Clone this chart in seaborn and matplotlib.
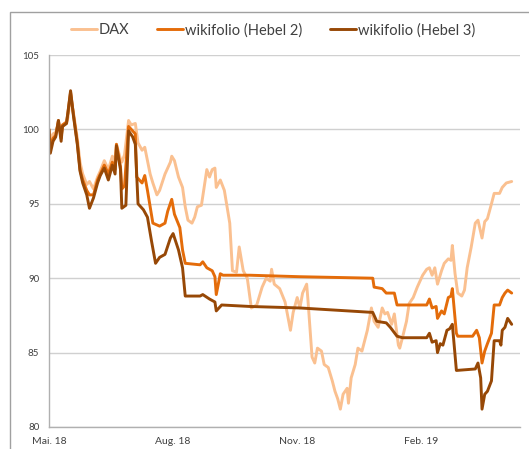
import numpy as np
import pandas as pd
import matplotlib
matplotlib.use("Agg")
import matplotlib.pyplot as plt
from matplotlib.patches import Rectangle
from matplotlib.lines import Line2D
import seaborn as sns

# Tage nach dem 1. Mai 2018 und Indexwerte (Start = 100)
dax_tage = [0, 1, 3, 5, 7, 9, 10, 13, 14, 16, 18, 21, 23, 25, 28, 30, 33, 36, 38, 41, 44, 47, 49, 50, 53, 54, 56,
            59, 61, 64, 66, 69, 71, 75, 77, 80, 82, 86, 90, 91, 93, 96, 99, 101, 103, 106, 108, 110, 113, 117, 119,
            121, 123, 124, 127, 130, 134, 136, 139, 141, 144, 147, 150, 154, 158, 161, 164, 165, 167, 171, 175, 179,
            181, 184, 186, 188, 191, 192, 195, 197, 199, 202, 204, 207, 210, 212, 214, 216, 218, 221, 222, 224, 227,
            229, 232, 234, 236, 239, 241, 244, 247, 249, 251, 254, 256, 259, 260, 262, 265, 267, 270, 273, 275, 277,
            280, 282, 284, 286, 288, 291, 293, 296, 298, 299, 301, 303, 306, 308, 310, 313, 316, 318, 321, 323, 325,
            328, 330, 334, 336, 339, 343]
dax = [100.0, 99.3, 99.7, 99.8, 100.4, 99.6, 100.2, 100.4, 100.8, 102.2, 101.2, 99.4, 97.8, 97.0, 96.3, 96.5, 96.0,
       96.8, 97.2, 97.9, 97.3, 98.2, 97.8, 99.0, 98.0, 97.8, 98.3, 100.6, 100.3, 100.4, 99.1, 98.6, 98.8, 97.0, 96.4,
       95.6, 95.9, 97.0, 97.8, 98.2, 97.9, 96.8, 96.1, 94.8, 93.9, 93.7, 94.1, 94.8, 94.9, 97.3, 96.8, 97.3, 97.4,
       96.1, 96.6, 95.9, 93.7, 90.5, 90.4, 92.1, 90.5, 90.0, 88.0, 88.2, 89.4, 90.0, 89.8, 90.6, 89.6, 89.3, 88.4,
       86.5, 87.7, 88.7, 88.0, 89.0, 89.6, 88.5, 84.7, 84.3, 85.3, 85.1, 84.2, 84.0, 83.1, 82.4, 81.9, 81.2, 82.2,
       82.6, 81.6, 83.3, 84.2, 85.3, 85.1, 85.8, 86.5, 88.0, 87.1, 86.7, 88.0, 87.6, 87.7, 86.9, 87.6, 85.5, 85.3,
       86.0, 87.1, 88.3, 88.7, 89.4, 89.8, 90.2, 90.6, 90.7, 90.2, 90.7, 89.6, 90.5, 91.0, 91.3, 91.2, 92.2, 90.3,
       89.0, 88.8, 89.2, 90.7, 92.1, 93.7, 93.9, 92.7, 93.8, 94.0, 95.0, 95.7, 95.7, 96.1, 96.4, 96.5]

hebel2_tage = [0, 1, 3, 5, 7, 9, 10, 13, 14, 16, 18, 21, 23, 25, 28, 30, 33, 36, 38, 41, 44, 47, 49, 50, 53, 54, 56,
               59, 61, 64, 65, 69, 71, 73, 77, 82, 86, 88, 91, 93, 97, 99, 101, 112, 114, 117, 121, 123, 124, 127,
               129, 149, 186, 240, 241, 247, 250, 256, 258, 280, 282, 284, 287, 288, 291, 293, 296, 298, 299, 302,
               303, 314, 317, 319, 321, 323, 325, 328, 330, 334, 336, 338, 340, 343]
hebel2 = [100.0, 98.8, 99.4, 99.6, 100.6, 99.4, 100.3, 100.5, 101.1, 102.5, 101.1, 99.1, 97.3, 96.6, 95.9, 95.6,
          95.6, 96.6, 97.0, 97.6, 97.0, 97.8, 97.3, 99.0, 97.5, 96.0, 96.2, 100.2, 100.0, 99.7, 96.8, 96.4, 96.9,
          95.9, 93.7, 93.5, 93.7, 94.5, 95.3, 94.3, 93.4, 91.9, 91.0, 90.9, 91.1, 90.7, 90.5, 90.1, 88.9, 90.3,
          90.2, 90.2, 90.1, 90.0, 89.4, 89.3, 89.0, 89.0, 88.2, 88.2, 88.6, 88.0, 88.1, 87.3, 87.8, 87.6, 88.7,
          88.8, 89.3, 86.3, 86.1, 86.1, 86.5, 86.0, 84.3, 85.1, 85.6, 86.3, 88.2, 88.2, 88.7, 89.0, 89.2, 89.0]

hebel3_tage = [0, 1, 3, 5, 7, 9, 10, 13, 14, 16, 18, 21, 23, 25, 28, 30, 33, 36, 38, 41, 44, 47, 49, 50, 53, 54, 57,
               59, 62, 64, 66, 70, 73, 76, 79, 82, 86, 90, 92, 96, 99, 101, 112, 114, 119, 123, 124, 128, 149, 186,
               240, 243, 250, 253, 258, 262, 280, 282, 284, 287, 288, 290, 292, 295, 297, 299, 302, 316, 318, 320,
               321, 323, 325, 328, 330, 334, 335, 336, 338, 340, 343]
hebel3 = [100.0, 98.4, 99.2, 99.5, 100.6, 99.2, 100.2, 100.4, 101.1, 102.6, 101.0, 99.0, 97.2, 96.4, 95.6, 94.7,
          95.4, 96.4, 96.9, 97.4, 96.6, 97.6, 97.0, 98.9, 97.3, 94.7, 94.9, 99.9, 99.5, 99.0, 95.0, 94.6, 94.1,
          92.5, 91.0, 91.4, 91.6, 92.7, 93.0, 91.9, 90.7, 88.8, 88.8, 88.9, 88.6, 88.4, 87.8, 88.2, 88.1, 88.0,
          87.7, 87.1, 87.0, 86.7, 86.1, 86.0, 86.0, 86.3, 85.7, 85.8, 85.0, 85.6, 85.5, 86.5, 86.6, 86.9, 83.8,
          83.9, 84.3, 83.3, 81.2, 82.2, 82.4, 83.1, 85.8, 85.8, 85.5, 86.5, 86.7, 87.3, 86.9]

namen = ["DAX", "wikifolio (Hebel 2)", "wikifolio (Hebel 3)"]
farben = ["#FAC090", "#E46C0A", "#974806"]
tick_daten = ["2018-05-01", "2018-08-01", "2018-11-01", "2019-02-01"]
tick_labels = ["Mai. 18", "Aug. 18", "Nov. 18", "Feb. 19"]
y_ticks = [80, 85, 90, 95, 100, 105]

start = pd.Timestamp("2018-05-01")
teile = []
for name, tage, werte in zip(namen, [dax_tage, hebel2_tage, hebel3_tage], [dax, hebel2, hebel3]):
    teile.append(pd.DataFrame({"datum": start + pd.to_timedelta(tage, unit="D"),
                               "wert": werte, "serie": name}))
df = pd.concat(teile, ignore_index=True)

sns.set_style("white")
plt.rcParams["font.family"] = ["Lato", "DejaVu Sans"]

fig = plt.figure(figsize=(5.29, 4.49), dpi=100)
ax = fig.add_axes([0.0926, 0.049, 0.890, 0.8285])

sns.lineplot(data=df, x="datum", y="wert", hue="serie", hue_order=namen,
             palette=dict(zip(namen, farben)), linewidth=2.1, legend=False, ax=ax)

ax.set_xlim(start, start + pd.Timedelta(days=349))
ax.set_ylim(80, 105)
ax.set_yticks(y_ticks)
ax.set_yticklabels([str(v) for v in y_ticks], fontsize=7, color="#404040")
ax.set_xticks(pd.to_datetime(tick_daten))
ax.set_xticklabels(tick_labels, fontsize=7.5, color="#404040")
ax.set_xlabel("")
ax.set_ylabel("")

ax.grid(axis="y", color="#d0d0d0", linewidth=1)
ax.grid(axis="x", visible=False)
ax.set_axisbelow(True)
for s in ["top", "right"]:
    ax.spines[s].set_visible(False)
for s in ["left", "bottom"]:
    ax.spines[s].set_color("#b0b0b0")
    ax.spines[s].set_linewidth(1)
ax.tick_params(axis="both", direction="out", length=4, width=1, color="#b0b0b0", pad=3)

handles = [Line2D([0], [0], color=c, lw=2.1) for c in farben]
fig.legend(handles, namen, loc="center", bbox_to_anchor=(0.516, 0.933), ncol=3, frameon=False,
           fontsize=10.5, handlelength=1.8, handletextpad=0.1, columnspacing=1.9,
           labelcolor="#404040")

# grauer Rahmen um das Diagramm
fig.patches.append(Rectangle((10 / 529, -0.2), 1.2, 1.2 - 12 / 449, transform=fig.transFigure,
                             fill=False, edgecolor="#a0a0a0", linewidth=1))

fig.savefig("out.png", dpi=100)
